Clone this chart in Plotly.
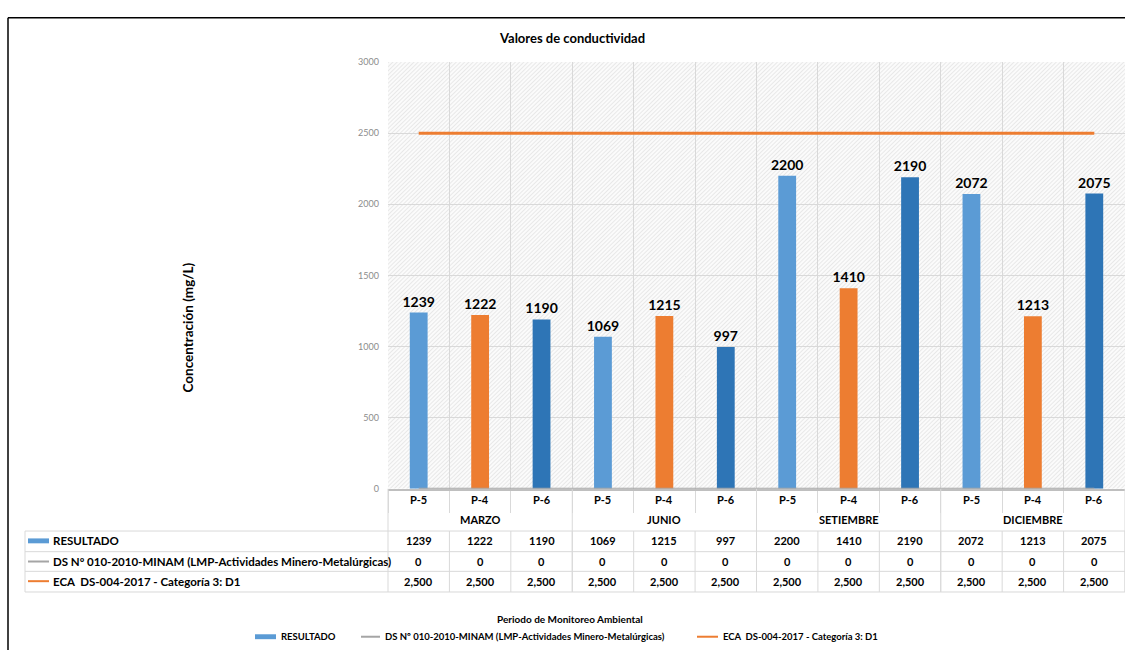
import base64
import plotly.graph_objects as go

# ---------------- data ----------------
months = ["MARZO", "JUNIO", "SETIEMBRE", "DICIEMBRE"]
points = ["P-5", "P-4", "P-6"]
resultado = [1239, 1222, 1190, 1069, 1215, 997, 2200, 1410, 2190, 2072, 1213, 2075]
lmp = [0, 0, 0, 0, 0, 0, 0, 0, 0, 0, 0, 0]
eca = [2500, 2500, 2500, 2500, 2500, 2500, 2500, 2500, 2500, 2500, 2500, 2500]
series_names = ["RESULTADO",
                "DS Nº 010-2010-MINAM (LMP-Actividades Minero-Metalúrgicas)",
                "ECA  DS-004-2017 - Categoría 3: D1"]
title = "Valores de conductividad"
y_title = "Concentración (mg/L)"
x_title = "Periodo de Monitoreo Ambiental"

point_colors = {"P-5": "#5B9BD5", "P-4": "#ED7D31", "P-6": "#2E75B6"}
GRAY_LINE = "#A5A5A5"
ORANGE = "#ED7D31"
GRID = "#D9D9D9"
FONT = "Lato"

W, H = 1125, 655
def px(x):
    return x / W
def py(y):
    return 1 - y / H

PL, PR, PT, PB = 388, 1125, 57, 491  # plot area in pixels

n = len(resultado)
xs = list(range(n))
cat_points = [points[i % 3] for i in range(n)]
bar_colors = [point_colors[p] for p in cat_points]

fig = go.Figure()
fig.add_trace(go.Bar(
    x=xs, y=resultado, width=0.29, marker=dict(color=bar_colors, line=dict(width=0)),
    text=[str(v) for v in resultado], textposition="outside", cliponaxis=False,
    constraintext="none",
    textfont=dict(family=FONT, size=14, color="#000000", weight="bold"),
    name=series_names[0], showlegend=False,
))
fig.add_trace(go.Scatter(
    x=xs, y=lmp, mode="lines", line=dict(color=GRAY_LINE, width=2),
    name=series_names[1], showlegend=False,
))
fig.add_trace(go.Scatter(
    x=xs, y=eca, mode="lines", line=dict(color=ORANGE, width=3),
    name=series_names[2], showlegend=False,
))

boundaries = [i - 0.5 for i in range(n + 1)]

# hatched plot background
svg = ('<svg xmlns="http://www.w3.org/2000/svg" width="740" height="440">'
       '<defs><pattern id="p" width="3" height="3" patternUnits="userSpaceOnUse" '
       'patternTransform="rotate(45)"><rect width="3" height="3" fill="#fbfbfb"/>'
       '<rect width="1" height="3" fill="#e8e8e8"/></pattern></defs>'
       '<rect width="100%" height="100%" fill="url(#p)"/></svg>')
src = "data:image/svg+xml;base64," + base64.b64encode(svg.encode()).decode()

shapes = []
def line(x0, y0, x1, y1, color=GRID, width=1, xref="paper"):
    shapes.append(dict(type="line", xref=xref, yref="paper", x0=x0, x1=x1,
                       y0=y0, y1=y1, line=dict(color=color, width=width)))

# frame
line(px(8), py(12), px(1125), py(12), "#000000", 1.5)
line(px(8), py(12), px(8), py(655), "#000000", 1.5)

# table horizontal lines
for yy in [534, 555, 575, 596]:
    line(px(25), py(yy), px(1125), py(yy))
line(px(25), py(534), px(25), py(596))
line(px(PL), py(PB), px(PL), py(596))
# table vertical lines at each boundary
for b in boundaries[1:]:
    line(b, py(534), b, py(596), xref="x")
# month separators
for m in range(1, len(months) + 1):
    line(3 * m - 0.5, py(PB), 3 * m - 0.5, py(596), xref="x")

annotations = []
def text(x, y, s, size=11, color="#000000", bold=True, xanchor="center", xref="paper", angle=0):
    annotations.append(dict(x=x, y=y, xref=xref, yref="paper", text=s, showarrow=False,
                            xanchor=xanchor, yanchor="middle", textangle=angle,
                            font=dict(family=FONT, size=size, color=color,
                                      weight="bold" if bold else "normal")))

text(px(572), py(33), title, size=13)
text(px(188), py(327), y_title, size=13.5, angle=-90)
text(px(570), py(623), x_title, size=10)

for i in range(n):
    text(i, py(502), cat_points[i], size=11, xref="x")
    text(i, py(544), str(resultado[i]), size=11, xref="x")
    text(i, py(565), str(lmp[i]), size=11, xref="x")
    text(i, py(585), f"{eca[i]:,}", size=11, xref="x")
for k, m in enumerate(months):
    text(3 * k + 1, py(522), m, size=11, xref="x")

# table row labels
shapes.append(dict(type="rect", xref="paper", yref="paper", x0=px(28), x1=px(49),
                   y0=py(546.5), y1=py(541.5), fillcolor=point_colors["P-5"], line=dict(width=0)))
line(px(28), py(565), px(49), py(565), GRAY_LINE, 2)
line(px(28), py(585), px(49), py(585), ORANGE, 2)
text(px(51), py(544), series_names[0], size=11.5, xanchor="left")
text(px(51), py(565), series_names[1], size=11.5, xanchor="left")
text(px(51), py(585), series_names[2], size=11.5, xanchor="left")

# bottom legend
shapes.append(dict(type="rect", xref="paper", yref="paper", x0=px(255), x1=px(276),
                   y0=py(644), y1=py(639), fillcolor=point_colors["P-5"], line=dict(width=0)))
line(px(361), py(641.5), px(380), py(641.5), GRAY_LINE, 2)
line(px(697), py(641.5), px(718), py(641.5), ORANGE, 2)
text(px(279), py(641.5), series_names[0], size=9.5, xanchor="left")
text(px(383), py(641.5), series_names[1], size=9.5, xanchor="left")
text(px(721), py(641.5), series_names[2], size=9.5, xanchor="left")

fig.update_layout(
    width=W, height=H, autosize=False,
    margin=dict(l=0, r=0, t=0, b=0),
    paper_bgcolor="#FFFFFF", plot_bgcolor="rgba(0,0,0,0)",
    barmode="overlay", showlegend=False,
    xaxis=dict(domain=[px(PL), px(PR)], range=[-0.5, n - 0.5], tickvals=boundaries,
               showticklabels=False, showgrid=True, gridcolor=GRID, gridwidth=1,
               ticks="outside", ticklen=22, tickcolor=GRID, tickwidth=1,
               showline=True, linecolor="#BFBFBF", linewidth=1.5, zeroline=False,
               fixedrange=True),
    yaxis=dict(domain=[py(PB), py(PT)], range=[0, 3000], tickvals=[0, 500, 1000, 1500, 2000, 2500, 3000],
               showgrid=True, gridcolor=GRID, gridwidth=1, zeroline=False, showline=False,
               tickfont=dict(family=FONT, size=9, color="#8C8C8C"), ticks="", ticklabelstandoff=8,
               fixedrange=True),
    images=[dict(source=src, xref="paper", yref="paper", x=px(PL), y=py(PT),
                 sizex=px(PR) - px(PL), sizey=py(PT) - py(PB), sizing="stretch",
                 xanchor="left", yanchor="top", layer="below")],
    shapes=shapes, annotations=annotations,
    font=dict(family=FONT),
)

fig.write_html("out.html")
